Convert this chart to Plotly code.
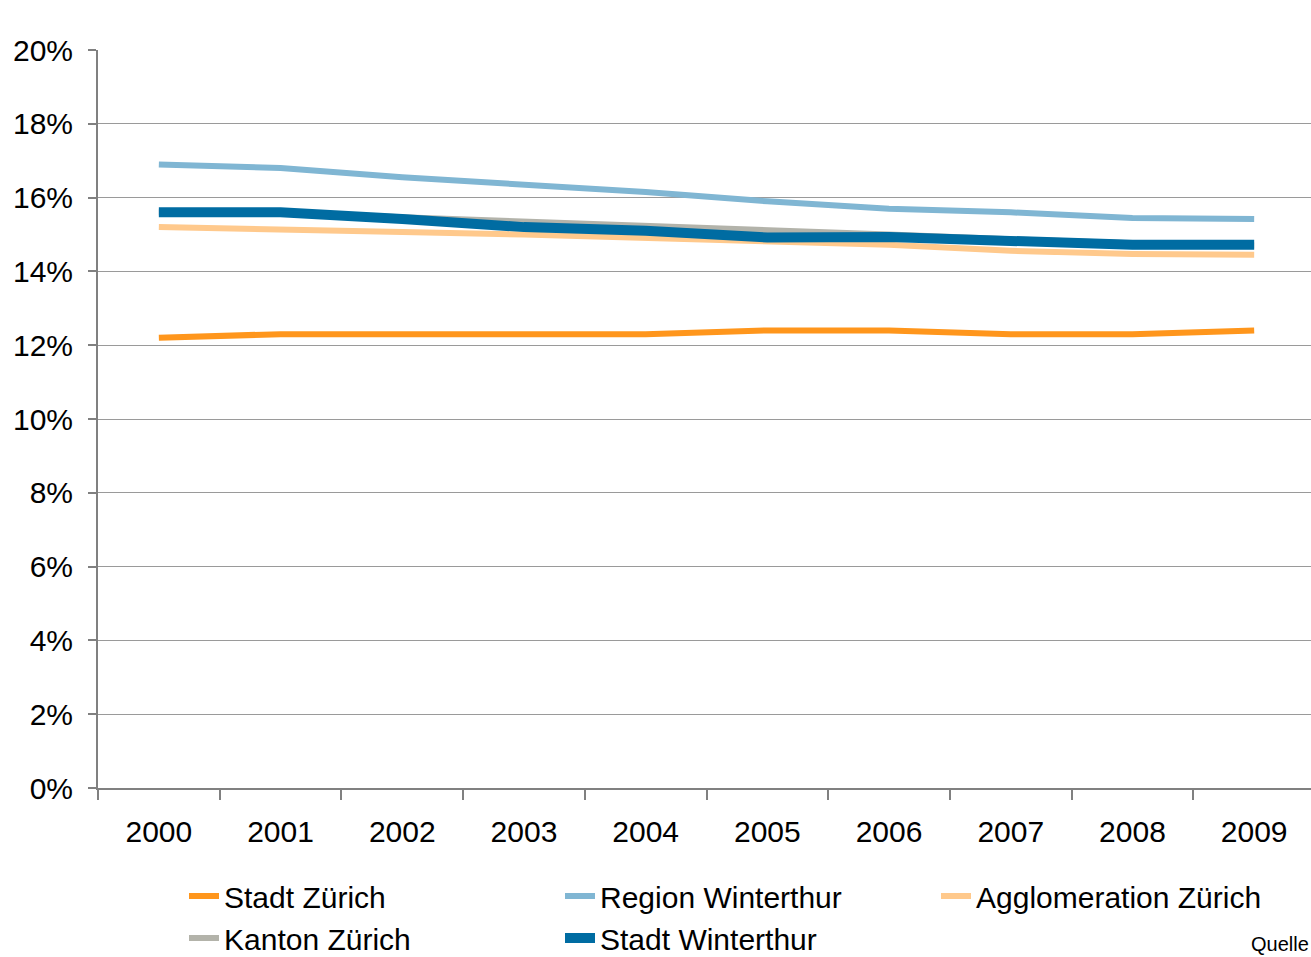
"""
Anteil der Bevölkerung ab 65 Jahren, 2000-2009 (Liniendiagramm)
"""

import plotly.graph_objects as go

# Jahre (Kategorien der x-Achse)
years = ["2000", "2001", "2002", "2003", "2004", "2005", "2006", "2007", "2008", "2009"]

# Werte in Prozent
stadt_zuerich = [12.2, 12.3, 12.3, 12.3, 12.3, 12.4, 12.4, 12.3, 12.3, 12.4]
region_winterthur = [16.9, 16.8, 16.55, 16.35, 16.15, 15.9, 15.7, 15.6, 15.45, 15.42]
agglo_zuerich = [15.2, 15.15, 15.07, 15.0, 14.9, 14.8, 14.72, 14.56, 14.47, 14.45]
kanton_zuerich = [15.6, 15.6, 15.47, 15.36, 15.24, 15.13, 15.0, 14.87, 14.76, 14.7]
stadt_winterthur = [15.6, 15.6, 15.42, 15.2, 15.1, 14.92, 14.93, 14.82, 14.72, 14.72]

y_ticks = [0, 2, 4, 6, 8, 10, 12, 14, 16, 18, 20]

# Name, Werte, Farbe, Linienbreite
_SERIES = [
    ("Stadt Zürich", stadt_zuerich, "#FF961C", 6),
    ("Region Winterthur", region_winterthur, "#80B6D3", 6),
    ("Agglomeration Zürich", agglo_zuerich, "#FFC98C", 6),
    ("Kanton Zürich", kanton_zuerich, "#B3B3AA", 6),
    ("Stadt Winterthur", stadt_winterthur, "#006CA2", 10),
]

FONT = "Liberation Sans, Arial, sans-serif"

fig = go.Figure()
for name, values, color, width in _SERIES:
    fig.add_trace(
        go.Scatter(
            x=years,
            y=values,
            name=name,
            mode="lines",
            line={"color": color, "width": width},
        )
    )

fig.update_layout(
    width=1311,
    height=957,
    margin={"l": 98, "r": 0, "t": 50, "b": 169, "autoexpand": False},
    paper_bgcolor="white",
    plot_bgcolor="white",
    font={"family": FONT, "size": 30, "color": "black"},
    showlegend=True,
    legend={
        "orientation": "h",
        "xref": "container",
        "yref": "container",
        "x": 184 / 1311,
        "y": 1 - 870 / 957,
        "xanchor": "left",
        "yanchor": "top",
        "entrywidth": 331,
        "entrywidthmode": "pixels",
        "font": {"size": 30},
        "traceorder": "normal",
        "tracegroupgap": 0,
        "bgcolor": "rgba(0,0,0,0)",
    },
    xaxis={
        "type": "category",
        "range": [-0.5, 9.467],
        "tickson": "boundaries",
        "ticks": "outside",
        "ticklen": 10,
        "tickcolor": "#808080",
        "tickwidth": 1.5,
        "ticklabelstandoff": 16,
        "showline": True,
        "linecolor": "#808080",
        "linewidth": 2,
        "showgrid": False,
        "automargin": False,
        "tickfont": {"size": 30},
    },
    yaxis={
        "range": [0, 20],
        "tickvals": y_ticks,
        "ticktext": [f"{v}%" for v in y_ticks],
        "ticks": "outside",
        "ticklen": 8,
        "tickcolor": "#808080",
        "tickwidth": 1.5,
        "ticklabelstandoff": 9,
        "showline": True,
        "linecolor": "#808080",
        "linewidth": 2,
        "showgrid": True,
        "gridcolor": "#9A9A9A",
        "gridwidth": 1,
        "zeroline": False,
        "automargin": False,
        "tickfont": {"size": 30},
    },
)

# Quellenangabe unten rechts (im Original abgeschnitten)
fig.add_annotation(
    text="Quelle",
    xref="paper",
    yref="paper",
    x=1,
    y=(788 - 957) / 738,
    xanchor="right",
    yanchor="bottom",
    showarrow=False,
    font={"size": 20, "color": "black"},
)

# Seitenrand des Browsers entfernen, damit die Grafik genau ins Fenster passt
fig.write_html(
    "out.html",
    config={"displayModeBar": False},
    post_script="document.body.style.margin='0';",
)
